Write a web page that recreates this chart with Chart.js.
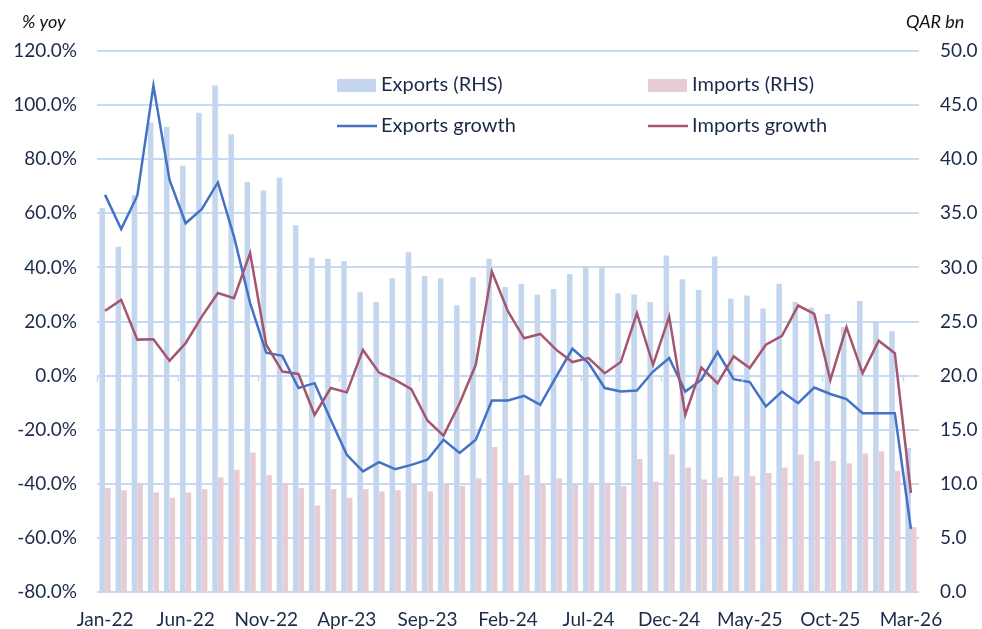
<!DOCTYPE html>
<html>
<head>
<meta charset="utf-8">
<script src="https://cdn.jsdelivr.net/npm/chart.js@4/dist/chart.umd.min.js"></script>
<style>
html,body{margin:0;padding:0;background:#fff;}
#wrap{position:relative;width:982px;height:629px;}
</style>
</head>
<body>
<div id="wrap"><canvas id="c" width="982" height="629"></canvas></div>
<script>
const months = ["Jan-22","Feb-22","Mar-22","Apr-22","May-22","Jun-22","Jul-22","Aug-22","Sep-22","Oct-22","Nov-22","Dec-22",
"Jan-23","Feb-23","Mar-23","Apr-23","May-23","Jun-23","Jul-23","Aug-23","Sep-23","Oct-23","Nov-23","Dec-23",
"Jan-24","Feb-24","Mar-24","Apr-24","May-24","Jun-24","Jul-24","Aug-24","Sep-24","Oct-24","Nov-24","Dec-24",
"Jan-25","Feb-25","Mar-25","Apr-25","May-25","Jun-25","Jul-25","Aug-25","Sep-25","Oct-25","Nov-25","Dec-25",
"Jan-26","Feb-26","Mar-26"];

const exportsRHS = [35.5,31.9,36.7,43.4,43.0,39.4,44.3,46.8,42.3,37.9,37.1,38.3,
33.9,30.9,30.8,30.6,27.7,26.8,29.0,31.4,29.2,29.0,26.5,29.1,
30.8,28.2,28.5,27.5,28.0,29.4,30.1,30.0,27.6,27.5,26.8,31.1,
28.9,27.9,31.0,27.1,27.4,26.2,28.5,26.8,26.3,25.7,24.5,26.9,
25.0,24.1,13.3];

const importsRHS = [9.6,9.4,10.0,9.2,8.7,9.2,9.5,10.6,11.3,12.9,10.8,10.0,
9.6,8.0,9.5,8.7,9.5,9.3,9.4,10.0,9.3,10.0,9.8,10.5,
13.4,10.1,10.8,10.0,10.5,9.9,10.1,10.1,9.8,12.3,10.2,12.7,
11.5,10.4,10.6,10.7,10.7,11.0,11.5,12.7,12.1,12.1,11.9,12.8,
13.0,11.2,6.0];

const exportsGrowth = [66.8,54.2,66.5,107.2,72.3,56.3,61.5,71.4,51.4,26.8,8.5,7.3,
-4.6,-2.8,-16.3,-29.3,-35.4,-32.0,-34.6,-33.0,-31.1,-23.7,-28.6,-23.7,
-9.2,-9.2,-7.5,-10.8,-0.3,9.9,4.6,-4.6,-5.9,-5.5,1.5,6.5,
-5.9,-1.5,8.7,-1.3,-2.4,-11.4,-5.9,-10.2,-4.4,-6.8,-8.7,-13.9,
-13.9,-13.9,-56.7];

const importsGrowth = [24.0,28.0,13.3,13.4,5.5,12.0,21.8,30.5,28.6,45.3,11.4,1.5,
0.6,-14.5,-4.6,-6.2,9.5,1.1,-1.6,-5.0,-16.6,-22.2,-10.2,4.0,
38.5,23.7,13.8,15.4,9.5,5.0,6.5,0.9,5.0,23.1,4.0,21.8,
-14.5,3.0,-2.8,7.1,2.8,11.4,14.7,25.9,22.8,-1.6,17.9,0.9,
12.9,8.3,-43.4];

const leftTicks = [120,100,80,60,40,20,0,-20,-40,-60,-80];
const rightTicks = [0,5,10,15,20,25,30,35,40,45,50];

const TXT = '#1B2A4A';
const FONT = 'Lato';
const GRID = '#C6DAF1';
const C_EXP_BAR = '#C4D6EE';
const C_IMP_BAR = '#E7CCD6';
const C_EXP_LINE = '#4472C4';
const C_IMP_LINE = '#A5566F';

const overlay = {
  id:'overlay',
  afterDatasetsDraw(chart){
    const ctx = chart.ctx;
    const x = chart.scales.x, y = chart.scales.y;
    const y0 = y.getPixelForValue(0);
    ctx.save();
    ctx.strokeStyle = GRID; ctx.lineWidth = 1.5;
    const w = (x.right - x.left)/months.length;
    for(let i=0;i<=months.length;i+=5){
      const px = Math.round(x.left + i*w)+0.5;
      ctx.beginPath(); ctx.moveTo(px,y0); ctx.lineTo(px,y0+6); ctx.stroke();
    }
    ctx.restore();
  },
  afterDraw(chart){
    const ctx = chart.ctx;
    ctx.save();
    ctx.fillStyle = '#111';
    ctx.font = 'italic 18px ' + FONT;
    ctx.textBaseline = 'middle';
    ctx.textAlign = 'left';
    ctx.fillText('% yoy', 22, 22);
    ctx.fillText('QAR bn', 906, 22);
    ctx.font = '20px ' + FONT;
    ctx.fillStyle = C_EXP_BAR; ctx.fillRect(337,79,39,13);
    ctx.fillStyle = C_IMP_BAR; ctx.fillRect(648,79,39,13);
    ctx.lineWidth = 2.5;
    ctx.strokeStyle = C_EXP_LINE; ctx.beginPath(); ctx.moveTo(337,126); ctx.lineTo(377,126); ctx.stroke();
    ctx.strokeStyle = C_IMP_LINE; ctx.beginPath(); ctx.moveTo(648,126); ctx.lineTo(688,126); ctx.stroke();
    ctx.fillStyle = TXT;
    ctx.fillText('Exports (RHS)', 381, 85);
    ctx.fillText('Exports growth', 381, 126);
    ctx.fillText('Imports (RHS)', 692, 85);
    ctx.fillText('Imports growth', 692, 126);
    ctx.restore();
  }
};

new Chart(document.getElementById('c'), {
  data: {
    labels: months,
    datasets: [
      {type:'bar', label:'Exports (RHS)', data: exportsRHS, yAxisID:'y1', backgroundColor:C_EXP_BAR, order:2,
       categoryPercentage:0.7, barPercentage:0.98},
      {type:'bar', label:'Imports (RHS)', data: importsRHS, yAxisID:'y1', backgroundColor:C_IMP_BAR, order:2,
       categoryPercentage:0.7, barPercentage:0.98},
      {type:'line', label:'Exports growth', data: exportsGrowth, yAxisID:'y', borderColor:C_EXP_LINE, borderWidth:2.5,
       pointRadius:0, tension:0, order:1, fill:false},
      {type:'line', label:'Imports growth', data: importsGrowth, yAxisID:'y', borderColor:C_IMP_LINE, borderWidth:2.5,
       pointRadius:0, tension:0, order:0, fill:false}
    ]
  },
  options: {
    responsive:false,
    animation:false,
    layout:{padding:{top:51,left:0,right:0,bottom:0}},
    plugins:{legend:{display:false}, tooltip:{enabled:false}},
    scales:{
      x:{
        grid:{display:false, drawTicks:false},
        border:{display:false},
        ticks:{autoSkip:false, maxRotation:0, padding:16, color:TXT, font:{family:FONT,size:19},
          callback:(v,i)=> (i%5===0 ? months[i] : '')},
        afterFit(s){ s.height = 37; }
      },
      y:{
        position:'left', min:-80, max:120,
        afterBuildTicks(s){ s.ticks = leftTicks.map(v=>({value:v})); },
        grid:{color:GRID, lineWidth:2, drawTicks:false},
        border:{display:false},
        ticks:{padding:20, color:TXT, font:{family:FONT,size:19}, callback:v=>Number(v).toFixed(1)+'%'},
        afterFit(s){ s.width = 97; }
      },
      y1:{
        position:'right', min:0, max:50,
        afterBuildTicks(s){ s.ticks = rightTicks.map(v=>({value:v})); },
        grid:{display:false, drawTicks:false},
        border:{display:false},
        ticks:{padding:21, color:TXT, font:{family:FONT,size:19}, callback:v=>Number(v).toFixed(1)},
        afterFit(s){ s.width = 63; }
      }
    }
  },
  plugins:[overlay]
});
</script>
</body>
</html>
